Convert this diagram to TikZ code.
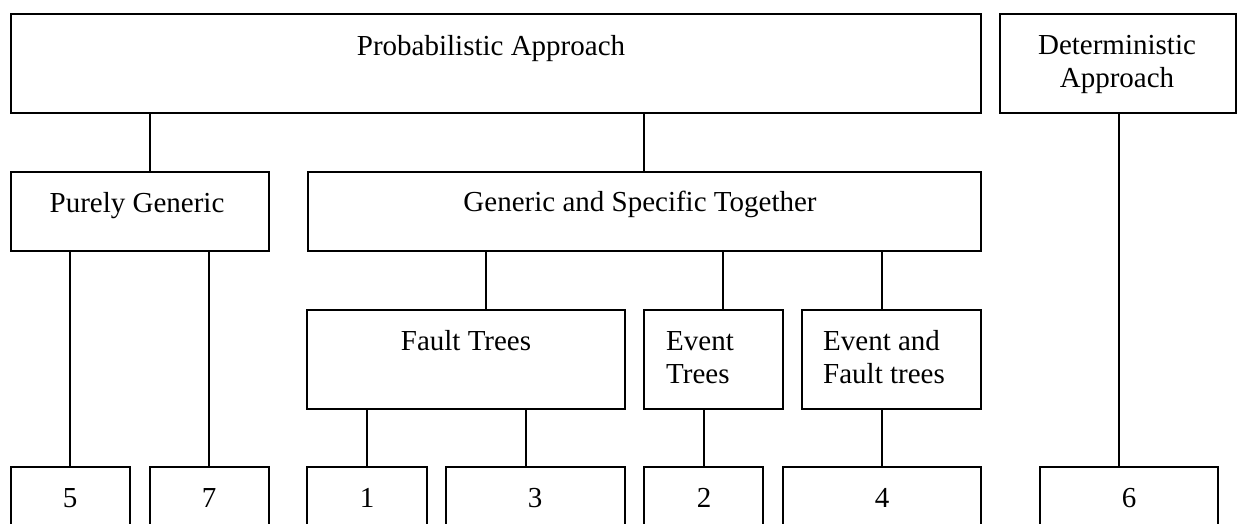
\documentclass[tikz,border=0pt]{standalone}
\usepackage{fontspec}
\setmainfont{Liberation Serif}
\begin{document}
\begin{tikzpicture}[x=1pt,y=-1pt,
  box/.style={draw,line width=1.3pt,inner sep=0pt,outer sep=0pt,anchor=north west},
  conn/.style={line width=1.3pt},
  lbl/.style={inner sep=0pt,font=\fontsize{29}{33}\selectfont},
]
\useasboundingbox (0,0) rectangle (1237,523);
\clip (0,0) rectangle (1237,523);
% boxes: (left,top), width x height
\newcommand{\mybox}[5]{\node[box,minimum width=#4pt,minimum height=#5pt] (#1) at (#2,#3) {};}
\mybox{prob}{11}{14}{970}{99}
\mybox{det}{1000}{14}{236}{99}
\mybox{pg}{11}{172}{258}{79}
\mybox{gs}{308}{172}{673}{79}
\mybox{ft}{307}{310}{318}{99}
\mybox{et}{644}{310}{139}{99}
\mybox{ef}{802}{310}{179}{99}
\mybox{b5}{11}{467}{119}{80}
\mybox{b7}{150}{467}{119}{80}
\mybox{b1}{307}{467}{120}{80}
\mybox{b3}{446}{467}{179}{80}
\mybox{b2}{644}{467}{119}{80}
\mybox{b4}{783}{467}{198}{80}
\mybox{b6}{1040}{467}{178}{80}
% labels
\node[lbl,anchor=base] (tprob) at (491,55) {Probabilistic Approach};
\node[lbl,anchor=base,align=center] (tdet) at (1117,87) {Deterministic\\Approach};
\node[lbl,anchor=base] (tpg) at (137,212) {Purely Generic};
\node[lbl,anchor=base] (tgs) at (640,211) {Generic and Specific Together};
\node[lbl,anchor=base] (tft) at (466,350) {Fault Trees};
\node[lbl,anchor=base west,align=left] (tet) at (666,383) {Event\\Trees};
\node[lbl,anchor=base west,align=left] (tef) at (823,383) {Event and\\Fault trees};
\node[lbl,anchor=base] (t5) at (70,507) {5};
\node[lbl,anchor=base] (t7) at (209,507) {7};
\node[lbl,anchor=base] (t1) at (367,507) {1};
\node[lbl,anchor=base] (t3) at (535,507) {3};
\node[lbl,anchor=base] (t2) at (704,507) {2};
\node[lbl,anchor=base] (t4) at (882,507) {4};
\node[lbl,anchor=base] (t6) at (1129,507) {6};
% connectors
\draw[conn] (prob.south -| 150,0) -- (pg.north -| 150,0);
\draw[conn] (prob.south -| 644,0) -- (gs.north -| 644,0);
\draw[conn] (gs.south -| 486,0) -- (ft.north -| 486,0);
\draw[conn] (gs.south -| 723,0) -- (et.north -| 723,0);
\draw[conn] (gs.south -| 882,0) -- (ef.north -| 882,0);
\draw[conn] (pg.south -| 70,0) -- (b5.north -| 70,0);
\draw[conn] (pg.south -| 209,0) -- (b7.north -| 209,0);
\draw[conn] (ft.south -| 367,0) -- (b1.north -| 367,0);
\draw[conn] (ft.south -| 526,0) -- (b3.north -| 526,0);
\draw[conn] (et.south -| 704,0) -- (b2.north -| 704,0);
\draw[conn] (ef.south -| 882,0) -- (b4.north -| 882,0);
\draw[conn] (det.south -| 1119,0) -- (b6.north -| 1119,0);
\end{tikzpicture}
\end{document}
